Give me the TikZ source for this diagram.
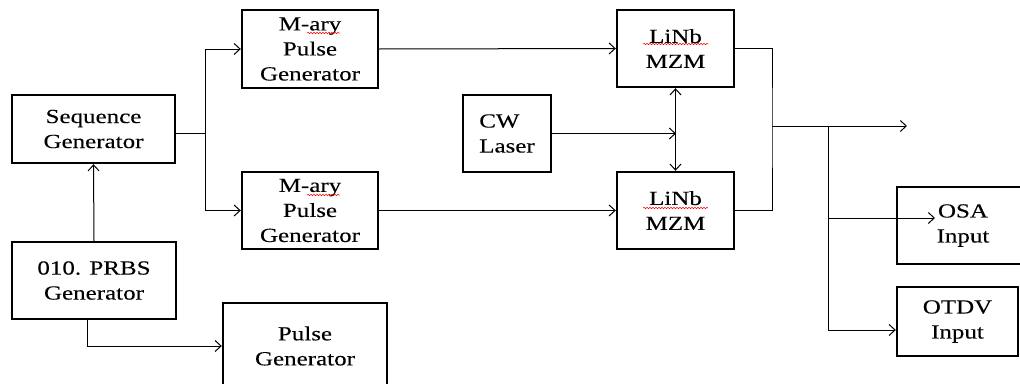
\documentclass[tikz,border=0pt]{standalone}
\usepackage{fontspec}
\setmainfont{Liberation Serif}[FakeStretch=1.25,FakeBold=0.15]
\usetikzlibrary{arrows.meta,calc,decorations.pathmorphing}
\begin{document}
\begin{tikzpicture}[x=1pt,y=-1pt,
  box/.style={draw,line width=2.4pt,inner sep=0pt,align=center,font=\fontsize{20}{25}\selectfont},
  conn/.style={line width=1pt},
  arr/.style={conn,-{Straight Barb[length=6pt,width=11pt,line width=1pt]}},
  darr/.style={conn,{Straight Barb[length=6pt,width=11pt,line width=1pt]}-{Straight Barb[length=6pt,width=11pt,line width=1pt]}},
  squig/.style={red,line width=0.5pt,decorate,decoration={snake,amplitude=0.7pt,segment length=3pt}}]
\useasboundingbox (0,0) rectangle (1020,383);
\begin{scope}
\clip (0,0) rectangle (1020,383);
% boxes
\node[box,minimum width=163pt,minimum height=68pt] (seq) at (93.5,129) {Sequence\\Generator};
\node[box,minimum width=164pt,minimum height=77pt] (prbs) at (94,280.5) {010. PRBS\\Generator};
\node[box,minimum width=136pt,minimum height=78pt] (mary1) at (310,49) {M-ary\\Pulse\\Generator};
\node[box,minimum width=136pt,minimum height=77pt] (mary2) at (310,210.5) {M-ary\\Pulse\\Generator};
\node[box,minimum width=88pt,minimum height=77pt,align=left] (cw) at (507,133.5) {CW\\Laser};
\node[box,minimum width=117pt,minimum height=77pt] (lin1) at (675.5,48.5) {LiNb\\MZM};
\node[box,minimum width=117pt,minimum height=77pt] (lin2) at (675.5,210.5) {LiNb\\MZM};
\node[box,minimum width=132pt,minimum height=77pt] (osa) at (963,225.5) {OSA\\Input};
\node[box,minimum width=121pt,minimum height=69pt] (otdv) at (957.5,321.5) {OTDV\\Input};
\node[box,minimum width=164pt,minimum height=86pt] (pulse) at (305,346) {Pulse\\Generator};
\end{scope}
% spell-check marks
\draw[squig] (307,33) -- (340,33);
\draw[squig] (307,195) -- (340,195);
\draw[squig] (643,44) -- (708,44);
\draw[squig] (643,208) -- (708,208);
% junction coordinates
\coordinate (s1) at (205,133);
\coordinate (vmid) at (676,133);
\coordinate (j1) at (772,126);
\coordinate (j2) at (828,126);
\coordinate (out) at (907,126);
\coordinate (osain) at (935,218);
% connectors
\draw[arr] (prbs.north) -- (seq.south);
\draw[conn] (seq.east |- s1) -- (s1);
\draw[arr] (s1) |- (mary1.west);
\draw[arr] (s1) |- (mary2.west);
\draw[arr] ($(prbs.south)+(-7,0)$) |- (pulse.west);
\draw[arr] (mary1.east) -- (lin1.west);
\draw[arr] (mary2.east) -- (lin2.west);
\draw[arr] (cw.east) -- (cw.east -| vmid);
\draw[darr] (lin1.south) -- (lin2.north);
\draw[conn] (lin1.east) -| (j1) |- (lin2.east);
\draw[arr] (j1) -- (out);
\draw[arr] (j2) |- (osain);
\draw[arr] (j2) |- ($(otdv.west)+(0,8.5)$);
\end{tikzpicture}
\end{document}
